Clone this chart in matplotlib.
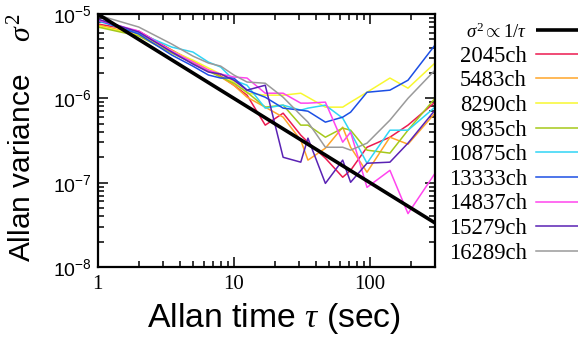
import matplotlib
matplotlib.use('Agg')
import matplotlib.pyplot as plt
from matplotlib.ticker import NullFormatter, LogLocator, FixedLocator, FixedFormatter

plt.rcParams['mathtext.fontset'] = 'custom'
plt.rcParams['mathtext.rm'] = 'Liberation Serif'
plt.rcParams['mathtext.it'] = 'Liberation Serif:italic'
plt.rcParams['mathtext.sf'] = 'Liberation Sans'
plt.rcParams['font.family'] = ['Liberation Sans', 'DejaVu Sans']

# ---- data ----
tau = [1, 2, 3.5, 5, 6.5, 8, 10, 12.5, 17, 23, 31, 35, 47, 63, 72, 95, 140, 190, 300]

var_2045ch = [7.61e-6, 6.28e-6, 3.73e-6, 2.69e-6, 2.16e-6, 1.84e-6, 1.43e-6, 1.09e-6, 4.81e-7, 6.67e-7,
              3.66e-7, 3.02e-7, 1.95e-7, 1.16e-7, 1.40e-7, 2.63e-7, 3.46e-7, 4.81e-7, 9.0e-7]
var_5483ch = [7.40e-6, 5.79e-6, 3.73e-6, 2.77e-6, 2.16e-6, 1.79e-6, 1.43e-6, 1.03e-6, 7.86e-7, 5.98e-7,
              3.19e-7, 1.85e-7, 2.56e-7, 4.55e-7, 2.63e-7, 1.33e-7, 3.46e-7, 2.86e-7, 6.67e-7]
var_8290ch = [7.20e-6, 5.63e-6, 3.63e-6, 2.84e-6, 2.29e-6, 1.94e-6, 1.56e-6, 1.15e-6, 1.09e-6, 1.09e-6,
              1.15e-6, 1.03e-6, 7.86e-7, 7.86e-7, 9.01e-7, 1.18e-6, 1.74e-6, 1.32e-6, 2.62e-6]
var_9835ch = [7.01e-6, 5.48e-6, 3.44e-6, 2.62e-6, 2.10e-6, 1.79e-6, 1.51e-6, 1.18e-6, 7.86e-7, 8.30e-7,
              4.81e-7, 4.81e-7, 3.46e-7, 4.43e-7, 4.19e-7, 2.43e-7, 2.24e-7, 4.19e-7, 1.00e-6]
var_10875ch = [8.26e-6, 5.95e-6, 4.05e-6, 3.54e-6, 2.69e-6, 2.35e-6, 1.64e-6, 1.43e-6, 7.65e-7, 8.30e-7,
               7.24e-7, 7.65e-7, 8.30e-7, 5.82e-7, 3.97e-7, 1.70e-7, 4.19e-7, 4.19e-7, 7.86e-7]
var_13333ch = [8.49e-6, 5.79e-6, 3.26e-6, 2.41e-6, 1.89e-6, 1.74e-6, 1.74e-6, 1.25e-6, 1.03e-6, 7.65e-7,
               7.24e-7, 7.04e-7, 5.22e-7, 5.98e-7, 6.85e-7, 1.18e-6, 1.25e-6, 1.64e-6, 4.28e-6]
var_14837ch = [8.49e-6, 6.28e-6, 3.63e-6, 2.69e-6, 2.16e-6, 1.94e-6, 1.79e-6, 1.74e-6, 1.15e-6, 1.15e-6,
               8.77e-7, 8.77e-7, 9.01e-7, 3.02e-7, 3.97e-7, 8.8e-8, 1.40e-7, 4.3e-8, 1.29e-7]
var_15279ch = [8.72e-6, 6.11e-6, 3.54e-6, 2.55e-6, 2.05e-6, 1.94e-6, 1.64e-6, 1.25e-6, 1.43e-6, 2.00e-7,
               1.75e-7, 3.37e-7, 9.8e-8, 1.85e-7, 1.01e-7, 1.70e-7, 1.75e-7, 2.94e-7, 7.24e-7]
var_16289ch = [9.73e-6, 7.01e-6, 4.40e-6, 3.17e-6, 2.62e-6, 2.41e-6, 1.89e-6, 1.56e-6, 1.51e-6, 1.03e-6,
               6.32e-7, 5.22e-7, 2.63e-7, 2.63e-7, 2.43e-7, 2.94e-7, 5.51e-7, 1.00e-6, 2.16e-6]

ref_tau = [1, 300]
ref_var = [1.0e-5, 3.33e-8]

labels = ['2045ch', '5483ch', '8290ch', '9835ch', '10875ch',
          '13333ch', '14837ch', '15279ch', '16289ch']
series = [var_2045ch, var_5483ch, var_8290ch, var_9835ch, var_10875ch,
          var_13333ch, var_14837ch, var_15279ch, var_16289ch]
colors = ['#ec1a50', '#ffa52a', '#f8f830', '#a5c91a', '#30d5f5',
          '#1c4fe4', '#ff45ee', '#5a22b4', '#9a9a9a']

xticks = [1, 10, 100]
xtick_labels = ['1', '10', '100']
yticks = [1e-8, 1e-7, 1e-6, 1e-5]
ytick_labels = [r'$\mathsf{10^{-8}}$', r'$\mathsf{10^{-7}}$',
                r'$\mathsf{10^{-6}}$', r'$\mathsf{10^{-5}}$']

# ---- figure ----
fig = plt.figure(figsize=(5.78, 3.43), dpi=100)
ax = fig.add_axes([0.169, 0.2216, 0.5836, 0.7376])

ax.plot(ref_tau, ref_var, color='black', lw=2.6, zorder=5,
        label=r'$\sigma^2 \propto 1/\tau$', solid_capstyle='butt')
for y, c, lab in zip(series, colors, labels):
    ax.plot(tau, y, color=c, lw=1.1, label=lab)

ax.set_xscale('log')
ax.set_yscale('log')
ax.set_xlim(1, 300)
ax.set_ylim(1e-8, 1e-5)

ax.xaxis.set_major_locator(FixedLocator(xticks))
ax.xaxis.set_major_formatter(FixedFormatter(xtick_labels))
ax.xaxis.set_minor_locator(LogLocator(base=10, subs=range(2, 10)))
ax.xaxis.set_minor_formatter(NullFormatter())
ax.yaxis.set_major_locator(FixedLocator(yticks))
ax.yaxis.set_major_formatter(FixedFormatter(ytick_labels))
ax.yaxis.set_minor_locator(LogLocator(base=10, subs=range(2, 10)))
ax.yaxis.set_minor_formatter(NullFormatter())

ax.tick_params(which='both', direction='in', top=True, right=True, width=1.1)
ax.tick_params(which='major', length=7)
ax.tick_params(which='minor', length=4.3)
ax.tick_params(axis='x', which='major', pad=6)
ax.tick_params(axis='y', which='major', pad=4, labelsize=14)
for t in ax.get_xticklabels():
    t.set_fontfamily('Liberation Serif')
    t.set_fontsize(15)
for s in ax.spines.values():
    s.set_linewidth(1.6)

ax.set_ylabel('Allan variance    $\\sigma^2$', fontsize=21.5)
ax.yaxis.set_label_coords(-0.18, 0.51)
ax.set_xlabel('Allan time $\\tau$ (sec)', fontsize=24.3)
ax.xaxis.set_label_coords(0.524, -0.135)

leg = fig.legend(loc='upper right', bbox_to_anchor=(1.0, 0.935), markerfirst=False,
                 frameon=False, prop={'family': 'Liberation Serif', 'size': 16.3},
                 handlelength=1.86, handletextpad=0.4, labelspacing=0.16,
                 borderpad=0, borderaxespad=0)
leg.get_texts()[0].set_fontsize(13.5)

fig.savefig('out.png', dpi=100)
